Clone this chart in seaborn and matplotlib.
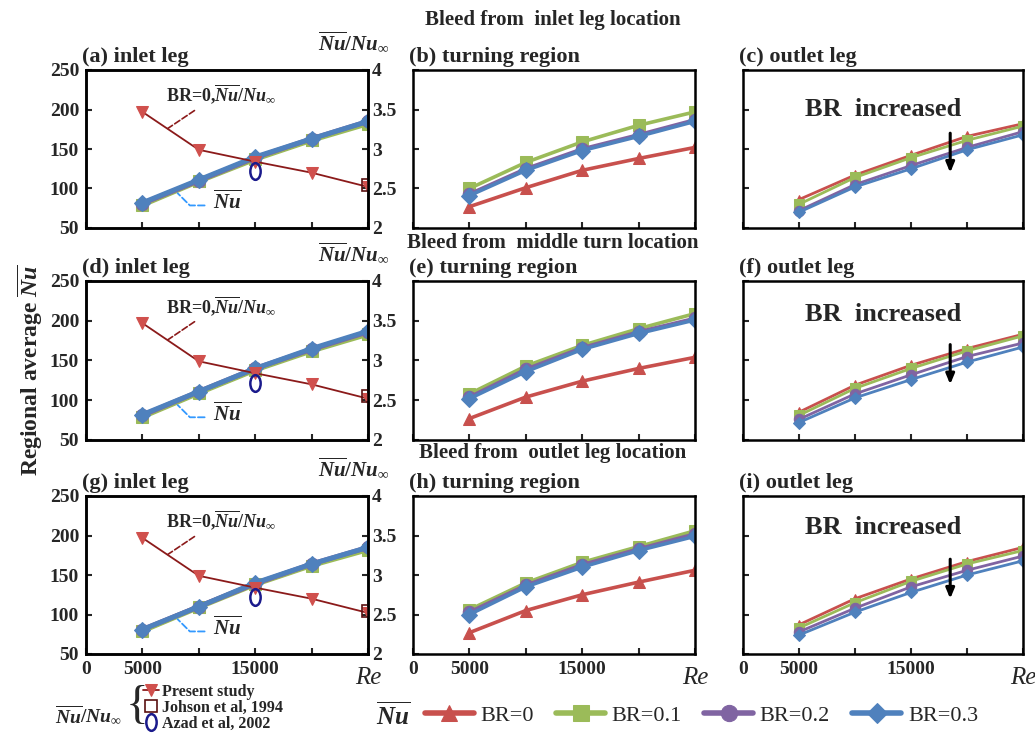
import matplotlib
matplotlib.use("Agg")
import matplotlib.pyplot as plt
import seaborn as sns
from matplotlib.path import Path
from matplotlib.transforms import Affine2D

# ---------------- data ----------------
re_vals = [5000, 10000, 15000, 20000, 25000]
br_names = ["BR=0", "BR=0.1", "BR=0.2", "BR=0.3"]

# inlet leg panels (a), (d), (g)
a_br0 = [80, 110, 138, 162, 184]
a_br01 = [79, 109, 137, 161, 182]
a_br02 = [81, 110, 139, 163, 185]
a_br03 = [82, 111, 140, 163, 185]
d_br0 = [80, 110, 139, 163, 185]
d_br01 = [79, 109, 138, 162, 183]
d_br02 = [81, 111, 140, 164, 186]
d_br03 = [82, 111, 140, 165, 187]
g_br0 = [80, 110, 139, 163, 184]
g_br01 = [79, 109, 138, 162, 182]
g_br02 = [81, 110, 139, 164, 185]
g_br03 = [81, 110, 140, 164, 185]

# Nu/Nu_inf (BR=0) and literature points
ratio_present = [3.47, 2.99, 2.84, 2.70, 2.52]
johnson_re = [25000]
johnson_ratio = [2.55]
azad_re = [15000]
azad_ratio = [2.72]

# turning region panels (b), (e), (h)
b_br0 = [77, 101, 123, 138, 152]
b_br01 = [100, 133, 159, 180, 197]
b_br02 = [93, 125, 150, 168, 187]
b_br03 = [91, 123, 148, 166, 185]
e_br0 = [77, 104, 124, 140, 154]
e_br01 = [108, 143, 169, 190, 209]
e_br02 = [104, 139, 166, 186, 203]
e_br03 = [102, 136, 164, 184, 201]
h_br0 = [77, 105, 125, 141, 156]
h_br01 = [106, 140, 166, 186, 206]
h_br02 = [103, 137, 163, 183, 202]
h_br03 = [100, 135, 160, 181, 199]

# outlet leg panels (c), (f), (i)
c_br0 = [86, 117, 142, 166, 182]
c_br01 = [80, 114, 139, 161, 179]
c_br02 = [72, 105, 129, 152, 172]
c_br03 = [70, 102, 125, 149, 168]
f_br0 = [85, 119, 144, 165, 183]
f_br01 = [81, 115, 140, 162, 181]
f_br02 = [76, 108, 132, 155, 172]
f_br03 = [72, 103, 126, 148, 167]
i_br0 = [87, 120, 145, 167, 185]
i_br01 = [83, 115, 142, 164, 181]
i_br02 = [78, 108, 135, 156, 174]
i_br03 = [74, 103, 128, 150, 168]

titles = [["(a) inlet leg", "(b) turning region", "(c) outlet leg"],
          ["(d) inlet leg", "(e) turning region", "(f) outlet leg"],
          ["(g) inlet leg", "(h) turning region", "(i) outlet leg"]]
row_headings = ["Bleed from  inlet leg location",
                "Bleed from  middle turn location",
                "Bleed from  outlet leg location"]
panel_data = [[[a_br0, a_br01, a_br02, a_br03], [b_br0, b_br01, b_br02, b_br03], [c_br0, c_br01, c_br02, c_br03]],
              [[d_br0, d_br01, d_br02, d_br03], [e_br0, e_br01, e_br02, e_br03], [f_br0, f_br01, f_br02, f_br03]],
              [[g_br0, g_br01, g_br02, g_br03], [h_br0, h_br01, h_br02, h_br03], [i_br0, i_br01, i_br02, i_br03]]]

# ---------------- style ----------------
sns.set_style("ticks")
plt.rcParams.update({
    "font.family": ["Liberation Serif", "DejaVu Serif"],
    "font.weight": "bold",
    "mathtext.fontset": "custom",
    "mathtext.rm": "Liberation Serif",
    "mathtext.it": "Liberation Serif:italic",
    "mathtext.bf": "Liberation Serif:bold",
    "mathtext.bfit": "Liberation Serif:italic:bold",
    "mathtext.fallback": "stix",
    "axes.linewidth": 1.8,
    "axes.edgecolor": "black",
    "xtick.direction": "in",
    "ytick.direction": "in",
})

colors = ["#C8504D", "#9BBB59", "#8064A2", "#4F81BD"]
markers = ["^", "s", "o", "D"]
ratio_line_color = "#8B1A1A"
ratio_marker_color = "#D0504D"

W, H = 1035, 734
def fx(px):
    return px / W
def fy(py):
    return 1 - py / H

col_left = [86, 413, 743]
col_w = [282, 282, 280]
row_top = [70, 281, 496]
row_bot = [228, 440, 654]

NU_LABEL = r"$\overline{\mathbfit{Nu}}/\mathbfit{Nu}_{\infty}$"
ellipse_marker = Path.unit_circle().transformed(Affine2D().scale(0.62, 1.0))

fig = plt.figure(figsize=(10.35, 7.34), dpi=100)
legend_handles = None
left_handles = None
br_text_y = [0.75, 0.79, 0.80]

for r in range(3):
    for c in range(3):
        ax = fig.add_axes([fx(col_left[c]), fy(row_bot[r]), col_w[c] / W,
                           (row_bot[r] - row_top[r]) / H])
        series = panel_data[r][c]
        if c == 0:
            lw, ms = 3.5, 9
        elif c == 1:
            lw, ms = 2.6, 9
        else:
            lw, ms = 2.0, 7.5
        for k in range(4):
            sns.lineplot(x=re_vals, y=series[k], ax=ax, color=colors[k],
                         marker=markers[k], markersize=ms if markers[k] != "D" else ms * 0.85,
                         markeredgecolor=colors[k], linewidth=lw, errorbar=None,
                         legend=False)
        if r == 0 and c == 1:
            legend_handles = ax.lines[-4:]
        ax.set_xlim(0, 25000)
        ax.set_ylim(50, 250)
        ax.set_xticks([0, 5000, 10000, 15000, 20000, 25000])
        ax.set_yticks([50, 100, 150, 200, 250])
        ax.tick_params(axis="both", length=4, width=1.5, labelsize=14, pad=5)
        ax.set_xlabel("")
        ax.set_ylabel("")
        if r == 2:
            ax.set_xticklabels(["0", "5000", "", "15000", "", "Re"])
            lab = ax.get_xticklabels()[-1]
            lab.set_fontstyle("italic")
            lab.set_fontweight("normal")
            lab.set_fontsize(18)
            ax.xaxis.get_major_ticks()[-1].set_pad(9)
        else:
            ax.tick_params(axis="x", labelbottom=False)
        if c != 0:
            ax.tick_params(axis="y", labelleft=False)
        for sp in ax.spines.values():
            sp.set_linewidth(1.8)
            sp.set_visible(True)

        ax.annotate(titles[r][c], xy=(0, 1), xycoords="axes fraction",
                    xytext=(-3, 6), textcoords="offset points",
                    ha="left", va="baseline", fontsize=16, fontweight="bold")

        if c == 0:
            ax2 = ax.twinx()
            sns.lineplot(x=re_vals, y=ratio_present, ax=ax2, color=ratio_line_color,
                         linewidth=1.3, marker="v", markersize=9,
                         markerfacecolor=ratio_marker_color,
                         markeredgecolor=ratio_marker_color, errorbar=None, legend=False)
            h_present = ax2.lines[-1]
            sns.lineplot(x=johnson_re, y=johnson_ratio, ax=ax2, color="#7a1a1a",
                         linestyle="none", marker="s", markersize=8,
                         markerfacecolor="none", markeredgecolor="#5a1010",
                         markeredgewidth=1.2, errorbar=None, legend=False)
            h_john = ax2.lines[-1]
            sns.lineplot(x=azad_re, y=azad_ratio, ax=ax2, color="#1a1a8c",
                         linestyle="none", marker=ellipse_marker, markersize=12,
                         markerfacecolor="none", markeredgecolor="#1a1a8c",
                         markeredgewidth=1.8, errorbar=None, legend=False)
            h_azad = ax2.lines[-1]
            if left_handles is None:
                left_handles = [h_present, h_john, h_azad]
            ax2.set_ylim(2, 4)
            ax2.set_yticks([2, 2.5, 3, 3.5, 4])
            ax2.set_yticklabels(["2", "2.5", "3", "3.5", "4"])
            ax2.tick_params(axis="y", length=4, width=1.5, labelsize=14, pad=3)
            ax2.set_ylabel("")
            ax2.annotate(NU_LABEL, xy=(1, 1), xycoords="axes fraction",
                         xytext=(-10, 20), textcoords="offset points",
                         ha="center", va="center", fontsize=15)
            # annotations
            ax.annotate(r"BR=0," + NU_LABEL, xy=(0.29, 0.63), xycoords="axes fraction",
                        xytext=(0.283, 0.845), textcoords="axes fraction",
                        ha="left", va="center", fontsize=13,
                        arrowprops=dict(arrowstyle="-", linestyle="--", color=ratio_line_color,
                                        lw=1.2, relpos=(0.33, 0.05), shrinkA=1, shrinkB=0))
            ax.annotate(r"$\overline{\mathbfit{Nu}}$", xy=(0.325, 0.22), xycoords="axes fraction",
                        xytext=(0.452, 0.165), textcoords="axes fraction",
                        ha="left", va="center", fontsize=15,
                        arrowprops=dict(arrowstyle="-", linestyle="--", color="#3399FF",
                                        lw=1.3, relpos=(0.0, 0.35), shrinkA=4, shrinkB=0,
                                        connectionstyle="angle,angleA=0,angleB=-45,rad=0"))
        if c == 2:
            ax.text(0.5, br_text_y[r], "BR  increased", transform=ax.transAxes,
                    ha="center", va="center", fontsize=19, fontweight="bold")
            ax.annotate("", xy=(0.74, 0.35), xycoords="axes fraction",
                        xytext=(0.74, 0.60), textcoords="axes fraction",
                        arrowprops=dict(arrowstyle="-|>,head_width=0.25,head_length=0.6",
                                        color="black", lw=2.2, shrinkA=0, shrinkB=0))

# row headings
heading_y = [20, 243, 453]
for r in range(3):
    fig.text(fx(553), fy(heading_y[r]), row_headings[r], ha="center", va="center",
             fontsize=15, fontweight="bold")

# y label
fig.text(fx(30), fy(370), r"Regional average $\overline{\mathbfit{Nu}}$", rotation=90,
         ha="center", va="center", fontsize=17, fontweight="bold")

# left legend
fig.text(fx(88), fy(716), NU_LABEL, ha="center", va="center", fontsize=14)
fig.text(fx(137), fy(707), "{", ha="center", va="center", fontsize=34,
         fontweight="normal")
leg1 = fig.legend(left_handles, ["Present study", "Johson et al, 1994", "Azad et al, 2002"],
                  loc="center left", bbox_to_anchor=(fx(143), fy(708)), frameon=False,
                  prop={"family": "Liberation Serif", "weight": "bold", "size": 11.5},
                  handlelength=1.0, handletextpad=0.2, labelspacing=0.0,
                  borderpad=0, borderaxespad=0)

# right legend
fig.text(fx(393), fy(716), r"$\overline{\mathbfit{Nu}}$", ha="center", va="center", fontsize=18)
leg2 = fig.legend(legend_handles, br_names, ncol=4, loc="center left",
                  bbox_to_anchor=(fx(425), fy(716)), frameon=False,
                  prop={"family": "Liberation Serif", "weight": "normal", "size": 16},
                  handlelength=2.2, columnspacing=1.0, handletextpad=0.3, markerscale=1.3,
                  borderpad=0, borderaxespad=0)
for ln in leg2.get_lines():
    ln.set_linewidth(4)

fig.savefig("out.png", dpi=100)
